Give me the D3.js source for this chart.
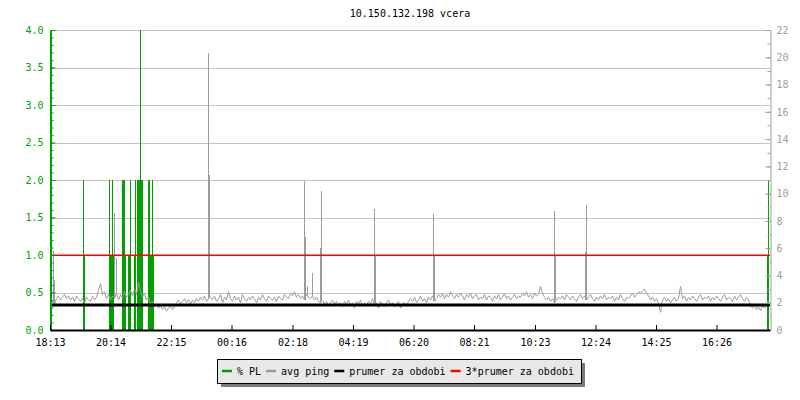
<!DOCTYPE html>
<html>
<head>
<meta charset="utf-8">
<script src="https://cdn.jsdelivr.net/npm/d3@7"></script>
<style>
  body { margin: 0; background: #fff; }
  svg text { font-family: "DejaVu Sans Mono", monospace; font-size: 10px; }
</style>
</head>
<body>
<div id="viz"></div>
<script>
// chart title and time axis
let title = '10.150.132.198 vcera',
    spanMinutes = 1440,
    sampleStep = 4;

let timeLabels = ['18:13', '20:14', '22:15', '00:16', '02:18', '04:19',
                  '06:20', '08:21', '10:23', '12:24', '14:25', '16:26'];

let plTicks = [0, 0.5, 1.0, 1.5, 2.0, 2.5, 3.0, 3.5, 4.0],
    pingTicks = [0, 2, 4, 6, 8, 10, 12, 14, 16, 18, 20, 22];

// packet loss (%), intervals in minutes from 18:13
let plStart = [66, 68, 118, 120, 123, 125, 144, 150, 155, 160, 167, 169, 174, 180, 182, 196, 199, 203, 206, 1434, 1436],
    plEnd   = [68, 69, 120, 123, 125, 127, 150, 151, 160, 162, 169, 172, 180, 182, 185, 199, 203, 206, 208, 1436, 1438],
    plValue = [2,  1,  2,   1,   2,   1,   2,   1,   1,   2,   1,   2,   2,   4,   2,   2,   1,   2,   1,   1,    2];

// avg ping (ms), one sample every 4 minutes
let avgPing = [
  2.0, 2.1, 1.9, 2.3, 2.5, 2.2, 2.4, 2.6, 2.3, 2.5,
  2.2, 2.4, 2.1, 2.5, 2.3, 2.1, 2.3, 2.0, 2.4, 2.2,
  2.1, 2.5, 2.2, 2.4, 2.9, 3.4, 2.6, 2.8, 2.3, 2.6,
  2.2, 2.5, 2.3, 2.7, 2.2, 2.6, 2.3, 2.8, 2.4, 2.6,
  2.9, 2.5, 3.0, 2.6, 3.5, 2.8, 2.4, 2.7, 2.2, 2.4,
  1.9, 2.1, 1.7, 1.9, 1.6, 1.8, 1.5, 1.7, 1.4, 1.6,
  1.8, 1.5, 1.7, 2.0, 2.2, 1.9, 2.1, 2.3, 2.0, 2.2,
  1.9, 2.2, 2.0, 2.3, 2.1, 2.4, 2.2, 2.5, 2.1, 2.3,
  2.4, 2.2, 2.5, 2.1, 2.3, 2.6, 2.0, 2.4, 2.2, 2.8,
  2.3, 2.1, 2.5, 2.2, 2.4, 2.0, 2.6, 2.3, 2.1, 2.4,
  2.2, 2.5, 2.3, 2.0, 2.4, 2.2, 2.6, 2.3, 2.1, 2.5,
  2.3, 2.2, 2.4, 2.1, 2.5, 2.3, 2.2, 2.6, 2.4, 2.3,
  2.7, 2.5, 2.8, 2.4, 2.6, 2.3, 2.5, 2.2, 2.6, 2.4,
  2.3, 2.5, 2.2, 2.4, 2.1, 2.0, 2.2, 1.9, 2.1, 1.8,
  2.0, 2.2, 1.9, 2.1, 1.8, 2.0, 1.7, 2.1, 1.9, 2.2,
  1.8, 2.0, 1.6, 2.1, 1.9, 2.2, 1.7, 2.0, 1.8, 2.1,
  1.9, 2.3, 1.8, 2.0, 1.6, 2.1, 1.9, 1.7, 2.0, 2.2,
  1.8, 2.0, 1.7, 1.9, 2.1, 1.6, 1.9, 2.0, 1.8, 2.1,
  2.3, 2.1, 2.4, 2.0, 2.2, 2.5, 2.1, 2.3, 2.0, 2.4,
  2.2, 2.5, 2.1, 2.3, 2.6, 2.4, 2.7, 2.3, 2.6, 2.4,
  2.8, 2.5, 2.3, 2.6, 2.4, 2.7, 2.5, 2.2, 2.6, 2.4,
  2.7, 2.3, 2.5, 2.6, 2.2, 2.4, 2.3, 2.6, 2.2, 2.5,
  2.4, 2.1, 2.5, 2.3, 2.6, 2.2, 2.4, 2.7, 2.3, 2.5,
  2.2, 2.4, 2.6, 2.3, 2.5, 2.4, 2.7, 2.5, 2.8, 2.4,
  2.6, 2.3, 2.7, 2.5, 2.6, 3.2, 2.7, 2.4, 2.2, 2.4,
  2.1, 2.3, 2.0, 2.2, 2.4, 2.3, 2.5, 2.2, 2.6, 2.4,
  2.2, 2.5, 2.3, 2.1, 2.4, 2.6, 2.3, 2.5, 2.2, 2.4,
  2.6, 2.3, 2.1, 2.4, 2.2, 2.5, 2.3, 2.6, 2.2, 2.4,
  2.3, 2.5, 2.1, 2.4, 2.2, 2.6, 2.3, 2.1, 2.4, 2.3,
  2.5, 2.7, 2.4, 2.6, 2.8, 2.7, 2.9, 3.0, 2.7, 2.5,
  2.2, 2.4, 2.1, 2.3, 2.0, 1.3, 2.2, 2.4, 2.1, 2.3,
  2.0, 2.2, 2.4, 2.1, 2.3, 3.2, 2.3, 2.5, 2.1, 2.4,
  2.2, 2.5, 2.3, 2.1, 2.4, 2.6, 2.2, 2.4, 2.3, 2.5,
  2.1, 2.4, 2.2, 2.5, 2.3, 2.1, 2.4, 2.6, 2.2, 2.4,
  2.3, 2.1, 2.5, 2.2, 2.4, 2.6, 2.3, 2.1, 2.4, 2.2,
  1.8, 1.6, 1.9, 1.5, 1.7, 1.4, 1.8, 1.6, 1.9, 2.2
];

// single ping spikes (minute, ms)
let spikeMinute = [6,   8,   128, 132, 316,  318,  507,  509, 513, 523, 540, 542,  648, 650, 766, 768, 1008, 1010, 1070, 1072],
    spikeValue  = [5.8, 3.7, 8.6, 5.3, 20.3, 11.4, 10.9, 6.8, 3.2, 4.2, 6.0, 10.2, 8.9, 5.4, 8.5, 5.4, 8.7,  5.4,  5.7,  9.2];

let prumer = 1.83;

let legendLabels = ['% PL', 'avg ping', 'prumer za obdobi', '3*prumer za obdobi'];

// styles
let green = '#00a000',
    gray = '#9c9c9c',
    grid = '#c4c4c4',
    margin = { top: 30, right: 30, bottom: 70, left: 50 },
    W = 800, H = 400,
    width = W - margin.left - margin.right,
    height = H - margin.top - margin.bottom,
    legendColors = [green, gray, '#000000', '#ff0000'];

let x = d3.scaleLinear()
  .domain([0, spanMinutes])
  .range([margin.left, margin.left + width]);

let yPL = d3.scaleLinear()
  .domain([0, 4])
  .range([margin.top + height, margin.top]);

let yPing = d3.scaleLinear()
  .domain([0, 22])
  .range([margin.top + height, margin.top]);

function toMinutes(s) {
  let p = s.split(':'),
      t0 = timeLabels[0].split(':');
  return ((+p[0] * 60 + +p[1]) - (+t0[0] * 60 + +t0[1]) + 1440) % 1440;
}

let svg = d3.select('#viz').append('svg')
  .attr('width', W)
  .attr('height', H)
  .style('display', 'block');

svg.append('text')
  .attr('x', x(spanMinutes / 2))
  .attr('y', 17)
  .attr('text-anchor', 'middle')
  .attr('fill', '#000')
  .text(title);

// horizontal grid
svg.append('g').selectAll('line')
  .data(plTicks.filter(function(d) { return d > 0; }))
  .enter().append('line')
  .attr('x1', x(0))
  .attr('x2', x(spanMinutes))
  .attr('y1', function(d) { return Math.round(yPL(d)) + 0.5; })
  .attr('y2', function(d) { return Math.round(yPL(d)) + 0.5; })
  .attr('stroke', grid)
  .attr('stroke-width', 1);

// packet loss areas
svg.append('g').selectAll('rect')
  .data(plValue)
  .enter().append('rect')
  .attr('x', function(d, i) { return x(plStart[i]); })
  .attr('width', function(d, i) { return x(plEnd[i]) - x(plStart[i]); })
  .attr('y', function(d) { return yPL(d); })
  .attr('height', function(d) { return yPL(0) - yPL(d); })
  .attr('fill', green)
  .attr('shape-rendering', 'crispEdges');

// avg ping line
let pingLine = d3.line()
  .x(function(d, i) { return x(i * sampleStep) + 0.5; })
  .y(function(d) { return yPing(d); });

svg.append('path')
  .datum(avgPing)
  .attr('d', pingLine)
  .attr('fill', 'none')
  .attr('stroke', gray)
  .attr('stroke-width', 1);

svg.append('g').selectAll('line')
  .data(spikeValue)
  .enter().append('line')
  .attr('x1', function(d, i) { return Math.round(x(spikeMinute[i])) + 0.5; })
  .attr('x2', function(d, i) { return Math.round(x(spikeMinute[i])) + 0.5; })
  .attr('y1', function(d, i) {
    return yPing(avgPing[Math.min(avgPing.length - 1, Math.round(spikeMinute[i] / sampleStep))]);
  })
  .attr('y2', function(d) { return yPing(d); })
  .attr('stroke', gray)
  .attr('stroke-width', 1)
  .attr('shape-rendering', 'crispEdges');

// average lines
svg.append('line')
  .attr('x1', x(0)).attr('x2', x(spanMinutes))
  .attr('y1', yPing(prumer)).attr('y2', yPing(prumer))
  .attr('stroke', '#000')
  .attr('stroke-width', 3);

svg.append('line')
  .attr('x1', x(0)).attr('x2', x(spanMinutes))
  .attr('y1', yPing(3 * prumer)).attr('y2', yPing(3 * prumer))
  .attr('stroke', '#ff0000')
  .attr('stroke-width', 1.5);

// left axis (% PL)
let leftMinor = d3.range(0, 41).map(function(d) { return d / 10; });

svg.append('g')
  .attr('transform', 'translate(' + (margin.left + 0.5) + ',0)')
  .call(d3.axisLeft(yPL).tickValues(leftMinor).tickSize(-3).tickSizeOuter(0).tickFormat(''))
  .call(function(g) { g.select('.domain').remove(); })
  .selectAll('line').attr('stroke', green);

let yGuide = svg.append('g')
  .attr('transform', 'translate(' + (margin.left + 0.5) + ',0)')
  .call(d3.axisLeft(yPL).tickValues(plTicks).tickSize(-5).tickSizeOuter(0).tickPadding(7)
    .tickFormat(d3.format('.1f')));
yGuide.attr('font-family', null).attr('font-size', null);
yGuide.selectAll('line').attr('stroke', green);
yGuide.select('.domain').attr('stroke', green).attr('stroke-width', 2);
yGuide.selectAll('text').attr('fill', green);

// right axis (ping ms)
let rightMinor = d3.range(0, 23);

svg.append('g')
  .attr('transform', 'translate(' + (margin.left + width + 0.5) + ',0)')
  .call(d3.axisRight(yPing).tickValues(rightMinor).tickSize(-3).tickSizeOuter(0).tickFormat(''))
  .call(function(g) { g.select('.domain').remove(); })
  .selectAll('line').attr('stroke', gray);

let y2Guide = svg.append('g')
  .attr('transform', 'translate(' + (margin.left + width + 0.5) + ',0)')
  .call(d3.axisRight(yPing).tickValues(pingTicks).tickSize(-5).tickSizeOuter(0).tickPadding(6));
y2Guide.attr('font-family', null).attr('font-size', null);
y2Guide.selectAll('line').attr('stroke', gray);
y2Guide.select('.domain').attr('stroke', gray);
y2Guide.selectAll('text').attr('fill', gray);

// bottom time axis
let xGuide = svg.append('g')
  .attr('transform', 'translate(0,' + (margin.top + height) + ')')
  .call(d3.axisBottom(x)
    .tickValues(timeLabels.map(toMinutes))
    .tickSize(-5)
    .tickSizeOuter(0)
    .tickPadding(9)
    .tickFormat(function(d, i) { return timeLabels[i]; }));
xGuide.attr('font-family', null).attr('font-size', null);
xGuide.selectAll('line').attr('stroke', '#000');
xGuide.select('.domain').attr('stroke', '#000').attr('stroke-width', 2);
xGuide.selectAll('text').attr('fill', '#000');

// legend
let legend = svg.append('g');
let lx = 217, ly = 359, lw = 364, lh = 24;

legend.append('rect')
  .attr('x', lx + 4).attr('y', ly + 4)
  .attr('width', lw).attr('height', lh)
  .attr('fill', '#7a7a7a');

legend.append('rect')
  .attr('x', lx + 0.5).attr('y', ly + 0.5)
  .attr('width', lw).attr('height', lh)
  .attr('fill', '#e8e8e8')
  .attr('stroke', '#000')
  .attr('stroke-width', 1);

let cursor = lx + 5;
legendLabels.forEach(function(label, i) {
  legend.append('line')
    .attr('x1', cursor).attr('x2', cursor + 10)
    .attr('y1', ly + 12).attr('y2', ly + 12)
    .attr('stroke', legendColors[i])
    .attr('stroke-width', 2.5);
  let t = legend.append('text')
    .attr('x', cursor + 15)
    .attr('y', ly + 15.5)
    .attr('fill', '#000')
    .text(label);
  cursor = cursor + 15 + t.node().getComputedTextLength() + 5;
});
</script>
</body>
</html>
